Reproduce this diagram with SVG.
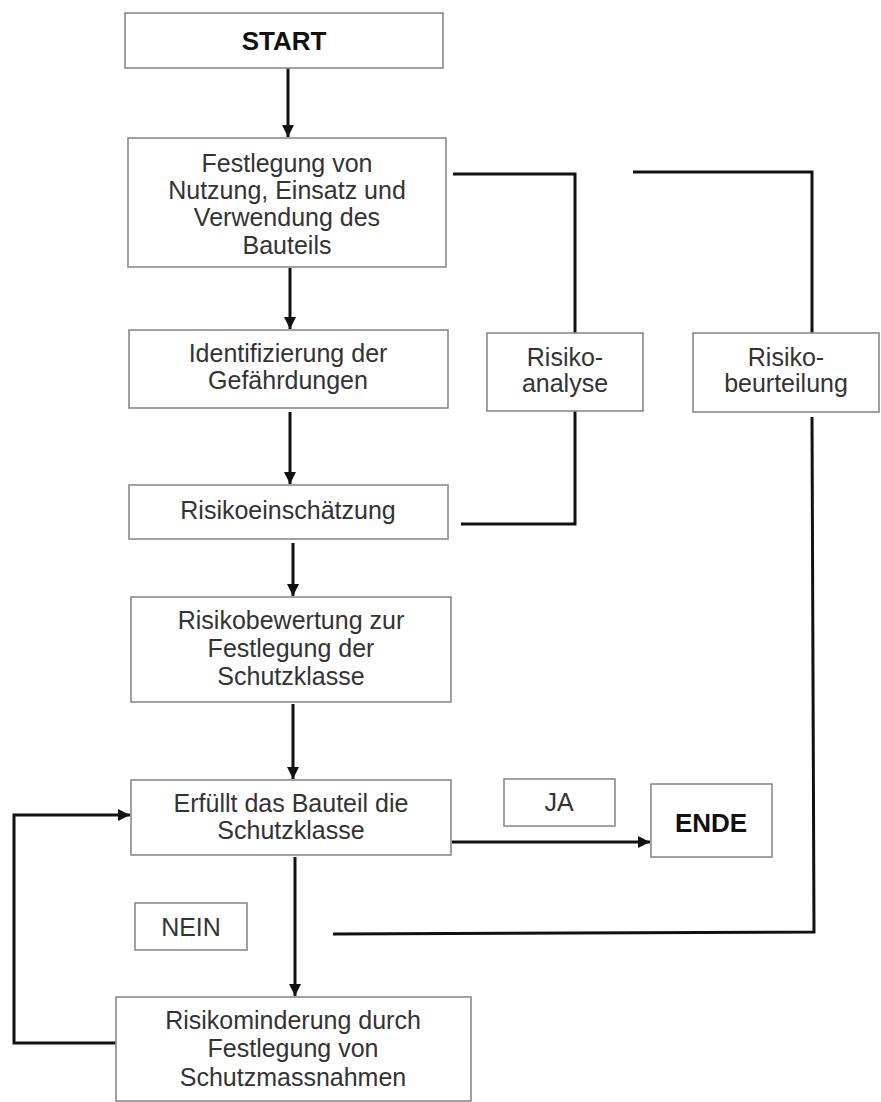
<svg xmlns="http://www.w3.org/2000/svg" width="881" height="1102" viewBox="0 0 881 1102">
<style>
.box{fill:#fff;stroke:#8a8a8a;stroke-width:1.6}
.t{font-family:"Liberation Sans",Arial,sans-serif;font-size:25px;fill:#333;text-anchor:middle}
.b{font-family:"Liberation Sans",Arial,sans-serif;font-size:26px;font-weight:bold;fill:#111;text-anchor:middle}
.c{fill:none;stroke:#111;stroke-width:3}
</style>
<defs>
<marker id="ah" viewBox="0 0 10 10" refX="10" refY="5" markerWidth="4" markerHeight="4" markerUnits="strokeWidth" orient="auto">
<path d="M0,0 L10,5 L0,10 z" fill="#111"/>
</marker>
</defs>
<rect width="881" height="1102" fill="#fff"/>
<g id="connectors">
<line class="c" x1="288" y1="68" x2="288" y2="137" marker-end="url(#ah)"/>
<line class="c" x1="290" y1="268" x2="290" y2="329" marker-end="url(#ah)"/>
<line class="c" x1="290" y1="412" x2="290" y2="484" marker-end="url(#ah)"/>
<line class="c" x1="293" y1="543" x2="293" y2="596" marker-end="url(#ah)"/>
<line class="c" x1="293" y1="704" x2="293" y2="779" marker-end="url(#ah)"/>
<line class="c" x1="295" y1="857" x2="295" y2="996" marker-end="url(#ah)"/>
<line class="c" x1="452" y1="842" x2="650" y2="842" marker-end="url(#ah)"/>
<polyline class="c" points="122,1043 14,1043 14,815 130,815" marker-end="url(#ah)"/>
<polyline class="c" points="453,174 575,174 575,333"/>
<polyline class="c" points="575,411 575,524 461,524"/>
<polyline class="c" points="633,172 812,172 812,333"/>
<polyline class="c" points="812,417 814,932 333,934"/>
</g>
<g id="start"><rect class="box" x="125" y="13" width="318" height="55"/><text class="b" x="284" y="50">START</text></g>
<g id="festlegung"><rect class="box" x="128" y="138" width="318" height="129"/>
<text class="t" x="287" y="172">Festlegung von</text>
<text class="t" x="287" y="199">Nutzung, Einsatz und</text>
<text class="t" x="287" y="226">Verwendung des</text>
<text class="t" x="287" y="254">Bauteils</text></g>
<g id="identifizierung"><rect class="box" x="129" y="330" width="319" height="78"/>
<text class="t" x="288" y="362">Identifizierung der</text>
<text class="t" x="288" y="389">Gefährdungen</text></g>
<g id="risikoeinschaetzung"><rect class="box" x="129" y="485" width="319" height="54"/>
<text class="t" x="288" y="519">Risikoeinschätzung</text></g>
<g id="risikobewertung"><rect class="box" x="131" y="597" width="320" height="105"/>
<text class="t" x="291" y="629">Risikobewertung zur</text>
<text class="t" x="291" y="657">Festlegung der</text>
<text class="t" x="291" y="685">Schutzklasse</text></g>
<g id="erfuellt"><rect class="box" x="131" y="780" width="320" height="75"/>
<text class="t" x="291" y="812">Erfüllt das Bauteil die</text>
<text class="t" x="291" y="839">Schutzklasse</text></g>
<g id="risikominderung"><rect class="box" x="116" y="997" width="355" height="104"/>
<text class="t" x="293" y="1029">Risikominderung durch</text>
<text class="t" x="293" y="1057">Festlegung von</text>
<text class="t" x="293" y="1086">Schutzmassnahmen</text></g>
<g id="risikoanalyse"><rect class="box" x="487" y="333" width="156" height="78"/>
<text class="t" x="565" y="366">Risiko-</text>
<text class="t" x="565" y="392">analyse</text></g>
<g id="risikobeurteilung"><rect class="box" x="693" y="333" width="186" height="79"/>
<text class="t" x="786" y="366">Risiko-</text>
<text class="t" x="786" y="392">beurteilung</text></g>
<g id="ja"><rect class="box" x="504" y="779" width="111" height="47"/><text class="t" x="559" y="811">JA</text></g>
<g id="ende"><rect class="box" x="651" y="784" width="121" height="73"/><text class="b" x="711" y="832">ENDE</text></g>
<g id="nein"><rect class="box" x="135" y="903" width="112" height="47"/><text class="t" x="191" y="936">NEIN</text></g>
</svg>
